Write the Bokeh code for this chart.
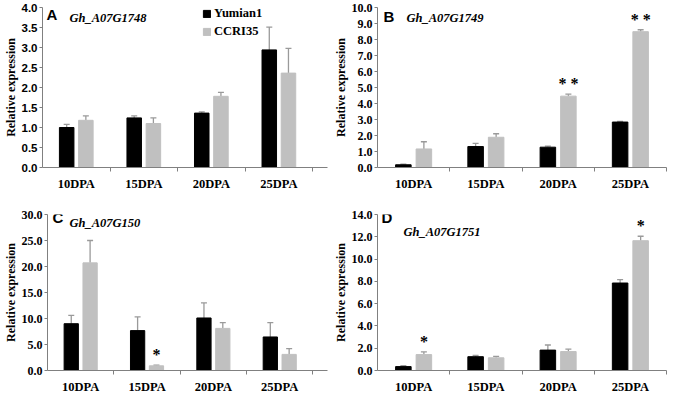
from bokeh.plotting import figure
from bokeh.models import (ColumnDataSource, FixedTicker, SingleIntervalTicker,
                          PrintfTickFormatter, Whisker, TeeHead, Label,
                          Legend, LegendItem, Range1d)
from bokeh.layouts import column, row
from bokeh.core.properties import value
from bokeh.embed import file_html
from bokeh.resources import INLINE

categories = ["10DPA", "15DPA", "20DPA", "25DPA"]
series = ["Yumian1", "CCRI35"]

a_yumian = [1.00, 1.24, 1.36, 2.94]
a_yumian_err = [0.08, 0.05, 0.03, 0.57]
a_ccri = [1.18, 1.10, 1.78, 2.36]
a_ccri_err = [0.11, 0.14, 0.10, 0.62]
a_sig = ["", "", "", ""]

b_yumian = [0.17, 1.31, 1.27, 2.84]
b_yumian_err = [0.04, 0.20, 0.06, 0.04]
b_ccri = [1.16, 1.89, 4.46, 8.49]
b_ccri_err = [0.45, 0.22, 0.12, 0.12]
b_sig = ["", "", "* *", "* *"]

c_yumian = [9.0, 7.67, 10.1, 6.45]
c_yumian_err = [1.6, 2.63, 2.9, 2.75]
c_ccri = [20.7, 0.9, 8.1, 3.1]
c_ccri_err = [4.3, 0.15, 1.1, 1.1]
c_sig = ["", "*", "", ""]

d_yumian = [0.35, 1.24, 1.83, 7.85]
d_yumian_err = [0.08, 0.11, 0.46, 0.30]
d_ccri = [1.43, 1.14, 1.70, 11.65]
d_ccri_err = [0.24, 0.13, 0.21, 0.40]
d_sig = ["*", "", "", "*"]

BLACK = "#000000"
GRAY = "#C0C0C0"
AXIS = "#808080"
ERR = "#9A9A9A"
SERIF = "Liberation Serif"
SANS = "Liberation Sans"


def make_panel(letter, gene, yum, yum_err, cc, cc_err, sig, ymax, step,
               xend, width, height, btop, bbottom, tick_font, tick_size,
               letter_off, gene_off, legend=False):
    p = figure(width=width, height=height, output_backend="svg",
               toolbar_location=None, x_range=Range1d(0, xend),
               y_range=Range1d(0, ymax), min_border_top=btop,
               min_border_bottom=bbottom, min_border_right=3,
               min_border_left=10)
    p.outline_line_color = None
    p.grid.grid_line_color = None
    p.background_fill_color = "white"

    centers = [i + 0.5 for i in range(len(categories))]
    shift = 0.142
    src = ColumnDataSource(dict(
        xb=[c - shift for c in centers], xg=[c + shift for c in centers],
        yb=yum, yg=cc,
        tb=[v + e for v, e in zip(yum, yum_err)],
        tg=[v + e for v, e in zip(cc, cc_err)],
        sig=sig))
    rb = p.vbar(x="xb", top="yb", width=0.215, source=src,
                fill_color=BLACK, line_color=BLACK)
    rg = p.vbar(x="xg", top="yg", width=0.215, source=src,
                fill_color=GRAY, line_color=GRAY)
    for xcol, lo, hi in (("xb", "yb", "tb"), ("xg", "yg", "tg")):
        w = Whisker(source=src, base=xcol, lower=lo, upper=hi,
                    line_color=ERR, line_width=1.3, lower_head=None,
                    upper_head=TeeHead(size=6, line_color=ERR, line_width=1.3))
        p.add_layout(w)
    p.text(x="xg", y="tg", text="sig", source=src,
           text_font=value(SERIF), text_font_style="bold",
           text_font_size="16px", text_align="center",
           text_baseline="bottom", text_color="black", y_offset=-2)

    # x axis
    xa = p.xaxis[0]
    xa.ticker = FixedTicker(ticks=centers,
                            minor_ticks=[i + 1 for i in range(len(categories))])
    xa.major_label_overrides = {c: lab for c, lab in zip(centers, categories)}
    xa.major_tick_line_color = None
    xa.major_tick_out = 0
    xa.major_tick_in = 0
    xa.minor_tick_line_color = AXIS
    xa.minor_tick_out = 4
    xa.minor_tick_in = 0
    xa.axis_line_color = AXIS
    xa.major_label_standoff = 5
    xa.major_label_text_font = SERIF
    xa.major_label_text_font_style = "bold"
    xa.major_label_text_font_size = "12.5px"
    xa.major_label_text_color = "black"

    # y axis
    ya = p.yaxis[0]
    ya.ticker = SingleIntervalTicker(interval=step, num_minor_ticks=0)
    ya.formatter = PrintfTickFormatter(format="%.1f")
    ya.axis_line_color = AXIS
    ya.major_tick_line_color = AXIS
    ya.major_tick_out = 3
    ya.major_tick_in = 0
    ya.minor_tick_line_color = None
    ya.major_label_standoff = 2
    ya.major_label_text_font = tick_font
    ya.major_label_text_font_style = "bold"
    ya.major_label_text_font_size = tick_size
    ya.major_label_text_color = "black"
    ya.axis_label = "Relative expression"
    ya.axis_label_text_font = SERIF
    ya.axis_label_text_font_style = "bold"
    ya.axis_label_text_font_size = "12px"
    ya.axis_label_standoff = 1
    ya.axis_label_text_color = "black"

    p.add_layout(Label(x=0, y=ymax, text=letter, x_offset=letter_off[0],
                       y_offset=letter_off[1], text_font=SANS,
                       text_font_style="bold", text_font_size="15px",
                       text_baseline="alphabetic", text_color="black"))
    p.add_layout(Label(x=0, y=ymax, text=gene, x_offset=gene_off[0],
                       y_offset=gene_off[1], text_font=SERIF,
                       text_font_style="bold italic", text_font_size="12.5px",
                       text_baseline="alphabetic", text_color="black"))

    if legend:
        frame_h = height - btop - bbottom
        lg = Legend(items=[LegendItem(label=series[0], renderers=[rb]),
                           LegendItem(label=series[1], renderers=[rg])],
                    location=(160, frame_h - 32), orientation="vertical",
                    glyph_width=9, glyph_height=9, label_height=14,
                    spacing=3, padding=0, margin=0, label_standoff=3,
                    border_line_color=None, background_fill_alpha=0,
                    label_text_font=SERIF, label_text_font_style="bold",
                    label_text_font_size="12.5px", label_text_color="black")
        p.add_layout(lg)
    return p


pA = make_panel("A", "Gh_A07G1748", a_yumian, a_yumian_err, a_ccri, a_ccri_err,
                a_sig, 4.0, 0.5, 4.22, 330, 196, 7, 29, SANS, "11.5px",
                (4, -7), (27, -10), legend=True)
pB = make_panel("B", "Gh_A07G1749", b_yumian, b_yumian_err, b_ccri, b_ccri_err,
                b_sig, 10.0, 1.0, 4.0, 339, 196, 6, 26, SERIF, "12px",
                (6, -9), (29, -10))
pC = make_panel("C", "Gh_A07G150", c_yumian, c_yumian_err, c_ccri, c_ccri_err,
                c_sig, 30.0, 5.0, 4.22, 330, 200, 18, 24, SERIF, "12px",
                (5, -3), (22, -8))
pD = make_panel("D", "Gh_A07G1751", d_yumian, d_yumian_err, d_ccri, d_ccri_err,
                d_sig, 14.0, 2.0, 4.0, 339, 200, 18, 24, SERIF, "12px",
                (4, -3), (26, -17))

layout = column(row(pA, pB), row(pC, pD))

open("out.html", "w").write(file_html(layout, INLINE))
